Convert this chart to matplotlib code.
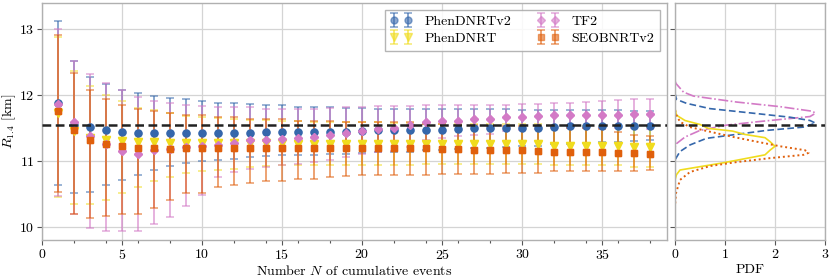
import matplotlib
matplotlib.use("Agg")
import matplotlib.pyplot as plt
from matplotlib.ticker import MultipleLocator
import numpy as np

plt.rcParams.update({
    "font.family": "serif",
    "font.serif": ["cmr10", "DejaVu Serif"],
    "mathtext.fontset": "cm",
    "axes.unicode_minus": False,
    "axes.formatter.use_mathtext": True,
    "font.size": 10,
})

# ---------------- data ----------------
n_events = list(range(1, 39))

v2_med = [11.88, 11.55, 11.52, 11.48, 11.45, 11.43, 11.43, 11.43, 11.43, 11.43,
          11.43, 11.43, 11.43, 11.44, 11.44, 11.44, 11.44, 11.44, 11.44, 11.46,
          11.47, 11.47, 11.47, 11.48, 11.48, 11.49, 11.50, 11.50, 11.51, 11.51,
          11.51, 11.52, 11.53, 11.53, 11.53, 11.54, 11.54, 11.54]
v2_hi = [13.13, 12.52, 12.28, 12.17, 12.08, 12.03, 11.99, 11.96, 11.94, 11.91,
         11.89, 11.88, 11.87, 11.86, 11.85, 11.83, 11.82, 11.82, 11.81, 11.81,
         11.80, 11.80, 11.80, 11.79, 11.79, 11.79, 11.79, 11.79, 11.79, 11.78,
         11.78, 11.78, 11.78, 11.78, 11.78, 11.78, 11.77, 11.77]
v2_lo = [10.64, 10.52, 10.53, 10.65, 10.72, 10.80, 10.87, 10.93, 10.98, 11.01,
         11.02, 11.04, 11.06, 11.08, 11.09, 11.09, 11.10, 11.11, 11.12, 11.13,
         11.14, 11.14, 11.15, 11.17, 11.18, 11.19, 11.20, 11.21, 11.22, 11.23,
         11.24, 11.26, 11.27, 11.28, 11.29, 11.30, 11.31, 11.32]

pd_med = [11.73, 11.46, 11.35, 11.33, 11.31, 11.30, 11.29, 11.28, 11.28, 11.28,
          11.28, 11.28, 11.28, 11.28, 11.28, 11.27, 11.27, 11.27, 11.27, 11.27,
          11.27, 11.27, 11.27, 11.26, 11.26, 11.26, 11.26, 11.26, 11.26, 11.26,
          11.26, 11.23, 11.23, 11.23, 11.23, 11.23, 11.22, 11.22]
pd_hi = [12.88, 12.37, 12.15, 12.01, 11.91, 11.81, 11.78, 11.74, 11.69, 11.67,
         11.66, 11.64, 11.63, 11.63, 11.62, 11.61, 11.60, 11.60, 11.59, 11.59,
         11.59, 11.58, 11.58, 11.56, 11.56, 11.56, 11.56, 11.56, 11.56, 11.56,
         11.56, 11.53, 11.53, 11.53, 11.53, 11.53, 11.52, 11.52]
pd_lo = [10.46, 10.35, 10.35, 10.42, 10.52, 10.62, 10.71, 10.77, 10.83, 10.86,
         10.87, 10.89, 10.91, 10.93, 10.94, 10.94, 10.95, 10.95, 10.95, 10.95,
         10.95, 10.95, 10.95, 10.96, 10.96, 10.96, 10.96, 10.96, 10.96, 10.96,
         10.96, 10.94, 10.94, 10.94, 10.94, 10.94, 10.92, 10.92]

tf_med = [11.87, 11.59, 11.38, 11.27, 11.16, 11.12, 11.17, 11.19, 11.22, 11.24,
          11.25, 11.28, 11.32, 11.33, 11.34, 11.36, 11.37, 11.40, 11.43, 11.46,
          11.49, 11.51, 11.55, 11.59, 11.61, 11.62, 11.64, 11.65, 11.67, 11.68,
          11.69, 11.70, 11.70, 11.71, 11.71, 11.71, 11.72, 11.72]
tf_hi = [13.01, 12.52, 12.32, 12.19, 12.08, 11.97, 11.92, 11.89, 11.86, 11.84,
         11.82, 11.82, 11.82, 11.80, 11.80, 11.80, 11.80, 11.81, 11.82, 11.83,
         11.84, 11.84, 11.84, 11.85, 11.85, 11.85, 11.85, 11.86, 11.86, 11.87,
         11.87, 11.88, 11.89, 11.90, 11.91, 11.93, 11.94, 11.95]
tf_lo = [10.48, 10.20, 9.99, 9.95, 9.95, 9.95, 10.05, 10.16, 10.33, 10.49,
         10.76, 10.84, 10.88, 10.92, 10.95, 10.96, 10.99, 11.02, 11.06, 11.11,
         11.14, 11.16, 11.22, 11.33, 11.35, 11.38, 11.40, 11.42, 11.46, 11.47,
         11.49, 11.50, 11.50, 11.51, 11.51, 11.50, 11.50, 11.49]

se_med = [11.77, 11.47, 11.32, 11.26, 11.23, 11.20, 11.20, 11.19, 11.20, 11.20,
          11.20, 11.20, 11.20, 11.20, 11.20, 11.20, 11.20, 11.20, 11.21, 11.21,
          11.21, 11.21, 11.21, 11.20, 11.19, 11.19, 11.18, 11.18, 11.17, 11.17,
          11.16, 11.15, 11.15, 11.14, 11.14, 11.13, 11.13, 11.12]
se_hi = [12.91, 12.34, 12.08, 11.94, 11.85, 11.80, 11.77, 11.74, 11.71, 11.70,
         11.68, 11.67, 11.65, 11.65, 11.64, 11.62, 11.62, 11.61, 11.60, 11.60,
         11.60, 11.60, 11.59, 11.57, 11.56, 11.55, 11.55, 11.54, 11.54, 11.53,
         11.53, 11.52, 11.51, 11.50, 11.49, 11.45, 11.40, 11.38]
se_lo = [10.53, 10.20, 10.15, 10.17, 10.20, 10.21, 10.30, 10.41, 10.52, 10.52,
         10.61, 10.65, 10.68, 10.71, 10.71, 10.74, 10.74, 10.77, 10.78, 10.80,
         10.80, 10.80, 10.80, 10.80, 10.81, 10.81, 10.81, 10.81, 10.82, 10.82,
         10.82, 10.85, 10.86, 10.86, 10.86, 10.86, 10.86, 10.87]

r_true = 11.55

# PDFs of R_1.4 for the full catalogue
tf_pdf_r = [12.22, 12.18, 12.05, 11.99, 11.90, 11.83, 11.76, 11.73, 11.68, 11.60,
            11.55, 11.47, 11.37, 11.27, 11.21]
tf_pdf = [0.0, 0.02, 0.17, 0.37, 1.23, 2.10, 2.75, 2.81, 2.70, 1.63,
          1.03, 0.50, 0.20, 0.03, 0.0]
v2_pdf_r = [12.03, 11.94, 11.88, 11.80, 11.73, 11.67, 11.62, 11.58, 11.52, 11.47,
            11.41, 11.35, 11.25, 11.15, 11.05, 10.98]
v2_pdf = [0.0, 0.03, 0.23, 0.70, 1.57, 2.30, 2.70, 2.81, 2.57, 1.83,
          1.23, 0.63, 0.30, 0.10, 0.02, 0.0]
pd_pdf_r = [11.80, 11.70, 11.62, 11.56, 11.50, 11.46, 11.41, 11.36, 11.30, 11.23,
            11.17, 11.10, 10.98, 10.87, 10.80, 10.72]
pd_pdf = [0.0, 0.03, 0.20, 0.50, 0.67, 1.15, 1.39, 1.80, 1.90, 2.00,
          1.90, 1.80, 0.97, 0.10, 0.03, 0.0]
se_pdf_r = [11.78, 11.70, 11.60, 11.52, 11.45, 11.37, 11.30, 11.23, 11.17, 11.13,
            11.10, 11.05, 10.99, 10.93, 10.84, 10.72, 10.52, 10.32]
se_pdf = [0.0, 0.03, 0.10, 0.30, 0.70, 1.17, 1.63, 2.10, 2.60, 2.67,
          2.57, 1.90, 1.23, 0.70, 0.30, 0.10, 0.02, 0.0]

labels = ["PhenDNRTv2", "PhenDNRT", "TF2", "SEOBNRTv2"]
colors = ["#3567ab", "#f0dc1e", "#d37ac6", "#e0600c"]
markers = ["o", "v", "D", "s"]
msizes = [5, 5.5, 4.5, 5]

# ---------------- figure ----------------
fig = plt.figure(figsize=(8.3, 2.78), dpi=100)
ax = fig.add_axes([42 / 830, 38 / 278, 625 / 830, 237 / 278])
axp = fig.add_axes([675 / 830, 38 / 278, 150 / 830, 237 / 278], sharey=ax)

spine_col = "#b0b0b0"
grid_col = "#d4d4d4"
for a in (ax, axp):
    a.grid(True, color=grid_col, lw=0.9, zorder=0)
    a.set_axisbelow(True)
    for s in a.spines.values():
        s.set_color(spine_col)
        s.set_linewidth(1.0)
    a.tick_params(which="both", direction="out", color="#555555", width=0.8,
                  labelsize=10, pad=2)
    a.tick_params(which="major", length=3.5)
    a.tick_params(which="minor", length=2.5)

series = [(v2_med, v2_lo, v2_hi), (pd_med, pd_lo, pd_hi),
          (tf_med, tf_lo, tf_hi), (se_med, se_lo, se_hi)]
x = np.array(n_events)
for i, (med, lo, hi) in enumerate(series):
    med = np.array(med); lo = np.array(lo); hi = np.array(hi)
    yerr = np.vstack([med - lo, hi - med])
    ax.errorbar(x, med, yerr=yerr, fmt=markers[i], color=colors[i],
                ms=msizes[i], elinewidth=1.4, capsize=3.2, capthick=1.2,
                alpha=0.58, label=labels[i], zorder=2 + i)
    ax.plot(x, med, ls="none", marker=markers[i], color=colors[i],
            ms=msizes[i], zorder=6 + i)

ax.axhline(r_true, color="#222222", lw=1.8, ls=(0, (3.5, 1.8)), zorder=12)

ax.set_xlim(0, 39.05)
ax.set_ylim(9.81, 13.40)
ax.xaxis.set_major_locator(MultipleLocator(5))
ax.xaxis.set_minor_locator(MultipleLocator(2))
ax.yaxis.set_major_locator(MultipleLocator(1))
ax.set_xlabel(r"Number $N$ of cumulative events", fontsize=10, labelpad=2)
ax.set_ylabel(r"$R_{1.4}$ [km]", fontsize=10)
ax.yaxis.set_label_coords(-0.038, 0.5)

leg = ax.legend(loc="upper right", ncol=2, numpoints=2, fontsize=10,
                frameon=True, fancybox=False, edgecolor="#a8a8a8",
                framealpha=0.85, columnspacing=1.8, handlelength=1.6,
                borderpad=0.4, labelspacing=0.3, handletextpad=0.9)
leg.get_frame().set_linewidth(1.0)

# PDF panel
axp.plot(tf_pdf, tf_pdf_r, color=colors[2], lw=1.2, ls=(0, (6, 1.5, 1, 1.5)))
axp.plot(v2_pdf, v2_pdf_r, color=colors[0], lw=1.2, ls=(0, (4, 2)))
axp.plot(pd_pdf, pd_pdf_r, color=colors[1], lw=1.2, ls="-")
axp.plot(se_pdf, se_pdf_r, color=colors[3], lw=1.4, ls=(0, (1, 1.5)))
axp.axhline(r_true, color="#222222", lw=1.8, ls=(0, (3.5, 1.8)), zorder=12)
axp.set_xlim(0, 3)
axp.xaxis.set_major_locator(MultipleLocator(1))
axp.set_xlabel("PDF", fontsize=10, labelpad=2)
plt.setp(axp.get_yticklabels(), visible=False)

fig.savefig("out.png", dpi=100)
